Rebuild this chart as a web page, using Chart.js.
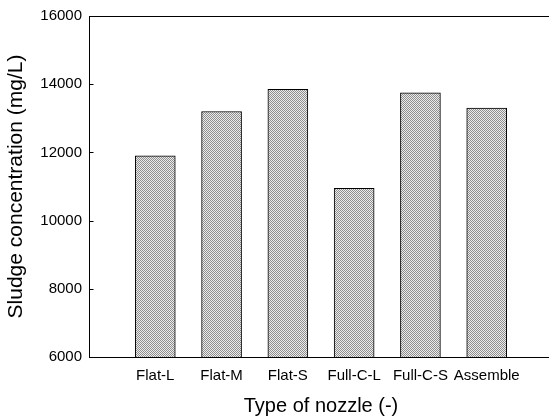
<!DOCTYPE html>
<html>
<head>
<meta charset="utf-8">
<script src="https://cdn.jsdelivr.net/npm/chart.js@4/dist/chart.umd.min.js"></script>
<style>
  html, body { margin: 0; padding: 0; background: #fff; overflow: hidden; }
  #wrap { width: 549px; height: 420px; overflow: hidden; }
  canvas { display: block; }
</style>
</head>
<body>
<div id="wrap"><canvas id="c" width="553" height="420"></canvas></div>
<script>
// Nozzle types and measured sludge concentration (mg/L)
const nozzles = ['Flat-L', 'Flat-M', 'Flat-S', 'Full-C-L', 'Full-C-S', 'Assemble'];
const sludge = [11900, 13200, 13850, 10950, 13750, 13300];
const yTicks = [6000, 8000, 10000, 12000, 14000, 16000];

// Halftone-like checker fill for the bars
function checkerFill() {
  const p = document.createElement('canvas');
  p.width = 2; p.height = 2;
  const g = p.getContext('2d');
  g.fillStyle = '#ececec'; g.fillRect(0, 0, 2, 2);
  g.fillStyle = '#8e8e8e'; g.fillRect(0, 0, 1, 1); g.fillRect(1, 1, 1, 1);
  return g.createPattern(p, 'repeat');
}

// Short inward tick marks on the value axis
const inwardTicks = {
  id: 'inwardTicks',
  afterDraw(chart) {
    const y = chart.scales.y;
    const x0 = Math.round(y.right) + 0.5;
    const c = chart.ctx;
    c.save();
    c.strokeStyle = '#000';
    c.lineWidth = 1;
    yTicks.forEach(v => {
      const py = Math.round(y.getPixelForValue(v)) + 0.5;
      c.beginPath();
      c.moveTo(x0, py);
      c.lineTo(x0 + 4, py);
      c.stroke();
    });
    c.restore();
  }
};

const font = "'Liberation Sans', Arial, sans-serif";
const ctx = document.getElementById('c').getContext('2d');
const fill = checkerFill();

new Chart(ctx, {
  type: 'bar',
  data: {
    datasets: [{
      data: nozzles.map((n, i) => ({ x: i + 1, y: sludge[i] })),
      backgroundColor: fill,
      borderColor: '#000',
      borderWidth: 1,
      borderSkipped: 'bottom',
      barThickness: 40
    }]
  },
  options: {
    responsive: false,
    animation: false,
    events: [],
    layout: { padding: { top: 15, left: 0, right: 0, bottom: 0 } },
    plugins: { legend: { display: false }, tooltip: { enabled: false } },
    scales: {
      x: {
        type: 'linear',
        offset: false,
        min: 0, max: 7,
        grid: { display: false, drawTicks: false, tickLength: 0 },
        border: { display: true, color: '#000', width: 1 },
        afterBuildTicks: (s) => { s.ticks = nozzles.map((n, i) => ({ value: i + 1 })); },
        ticks: {
          color: '#000',
          font: { family: font, size: 15 },
          padding: 10,
          maxRotation: 0,
          autoSkip: false,
          callback: (v) => nozzles[v - 1] || ''
        },
        title: {
          display: true,
          text: 'Type of nozzle (-)',
          color: '#000',
          font: { family: font, size: 20 },
          padding: { top: 0, bottom: 2 }
        },
        afterFit: (s) => { s.height = 63; }
      },
      xTop: {
        type: 'linear',
        position: 'top',
        offset: false,
        min: 0, max: 7,
        grid: { display: false, drawTicks: false, tickLength: 0 },
        border: { display: true, color: '#000', width: 1 },
        ticks: { display: false },
        afterFit: (s) => { s.height = 0; }
      },
      y: {
        min: 6000, max: 16000,
        afterBuildTicks: (s) => { s.ticks = yTicks.map(v => ({ value: v })); },
        grid: { display: false, drawTicks: false, tickLength: 0 },
        border: { display: true, color: '#000', width: 1 },
        ticks: {
          color: '#000',
          font: { family: font, size: 15 },
          padding: 7,
          callback: (v) => String(v)
        },
        title: {
          display: true,
          text: 'Sludge concentration (mg/L)',
          color: '#000',
          font: { family: font, size: 21 },
          padding: { top: 4, bottom: 0 }
        },
        afterFit: (s) => { s.width = 89; }
      }
    }
  },
  plugins: [inwardTicks]
});
</script>
</body>
</html>
